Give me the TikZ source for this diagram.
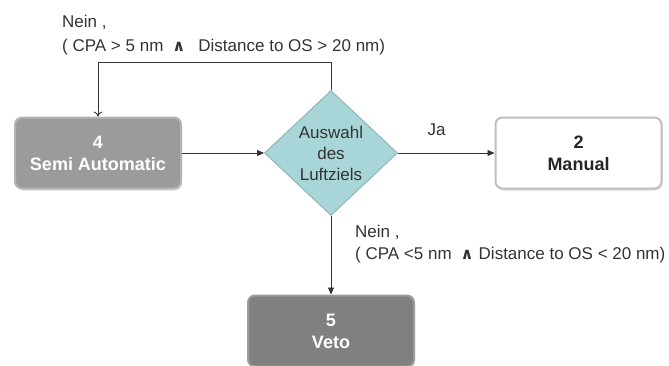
\documentclass[tikz,border=0pt]{standalone}
\usepackage{fontspec}
\setmainfont{Liberation Sans}
\newfontfamily\dv{DejaVu Sans}
\usetikzlibrary{shapes.geometric,arrows.meta,shadows}
\definecolor{semifill}{HTML}{9B9B9B}
\definecolor{semiedge}{HTML}{B5B5B5}
\definecolor{vetofill}{HTML}{808080}
\definecolor{vetoedge}{HTML}{9C9C9C}
\definecolor{diafill}{HTML}{A8D6D8}
\definecolor{diaedge}{HTML}{8FB5B8}
\definecolor{txtgray}{HTML}{333333}
\tikzset{
  box/.style={rounded corners=7pt, minimum width=166pt, minimum height=71pt, line width=2pt, align=center, font=\fontsize{18}{22}\selectfont\bfseries, drop shadow={shadow xshift=1pt, shadow yshift=-2pt, opacity=0.25}},
  semibox/.style={box, fill=semifill, draw=semiedge, text=white},
  manbox/.style={box, fill=white, draw=black!25, text=black!85},
  vetobox/.style={box, fill=vetofill, draw=vetoedge, text=white},
  decision/.style={diamond, fill=diafill, draw=diaedge, line width=1pt, minimum width=133pt, minimum height=125pt, inner sep=0pt, align=center, font=\fontsize{17}{21}\selectfont, text=txtgray},
  conn/.style={line width=0.9pt, draw=black!80},
  lbl/.style={font=\fontsize{17}{20}\selectfont, text=txtgray, anchor=west, inner sep=0pt}
}
\newcommand{\myand}{{\dv\bfseries\fontsize{16}{18}\selectfont ∧}}
\begin{document}
\begin{tikzpicture}[x=1pt,y=1pt]
\useasboundingbox (0,0) rectangle (669,365);
\node[semibox] (semi) at (98,212) {4\\Semi Automatic};
\node[decision] (dec) at (331,212) {Auswahl\\des\\Luftziels};
\node[manbox] (man) at (578.5,212) {2\\Manual};
\node[vetobox] (veto) at (331,34) {5\\Veto};
\coordinate (tr) at (331,303);
\coordinate (tl) at (98,303);
\draw[conn, -{To[length=5pt,width=9pt]}] (dec.north) -- (tr) -- (tl) -- (semi.north);
\draw[conn, -{Triangle[length=7pt,width=6pt]}] (semi.east) -- (dec.west);
\draw[conn, -{Triangle[length=7pt,width=6pt]}] (dec.east) -- node[lbl, anchor=center, pos=0.4, yshift=23pt] (ja) {Ja} (man.west);
\draw[conn, -{Triangle[length=7pt,width=6pt]}] (dec.south) -- (veto.north);
\node[lbl] (n1) at (62,343) {Nein ,};
\node[lbl] (n1b) at (62,318) {( CPA > 5 nm\hspace{9pt}\myand\hspace{13pt}Distance to OS > 20 nm)};
\node[lbl] (n2) at (355,133) {Nein ,};
\node[lbl] (n2b) at (355,110) {( CPA <5 nm\hspace{9pt}\myand\hspace{5pt}Distance to OS < 20 nm)};
\end{tikzpicture}
\end{document}
